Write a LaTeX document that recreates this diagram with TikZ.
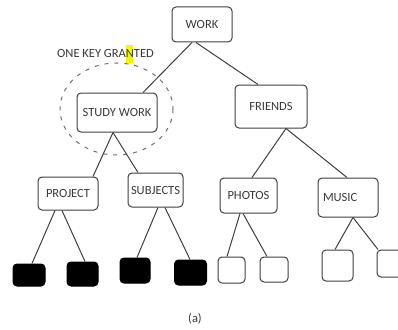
\documentclass[tikz,border=0pt]{standalone}
\usepackage{fontspec}
\setmainfont{Carlito}
\usetikzlibrary{calc}
\definecolor{linec}{HTML}{404040}
\definecolor{txtc}{HTML}{3A3A3A}
\definecolor{dashc}{HTML}{707070}
\definecolor{hl}{HTML}{F5F500}
\begin{document}
\begin{tikzpicture}[x=1pt,y=-1pt,
  box/.style={draw=linec, line width=1pt, rounded corners=4pt, inner sep=0pt,
    font=\fontsize{12.5}{14}\selectfont, text=txtc},
  leaf/.style={draw=linec, line width=1pt, rounded corners=4pt, inner sep=0pt},
  dark/.style={leaf, fill=black, draw=black},
  edge/.style={draw=linec, line width=1pt},
  lbl/.style={font=\fontsize{12.5}{14}\selectfont, text=txtc, inner sep=0pt}]
\useasboundingbox[fill=white] (0,0) rectangle (398,329);

% highlight and key label
\fill[hl] (126,45) rectangle (133,63);
\node[lbl, anchor=west] (key) at (57,53) {ONE KEY GRANTED};

% dashed circle
\draw[dashc, line width=1pt, dash pattern=on 4pt off 6pt] (116.5,109) ellipse [x radius=56.5, y radius=46];

% nodes
\node[box, minimum width=60pt, minimum height=35pt] (wk) at (202,24.5) {WORK};
\node[box, minimum width=80pt, minimum height=39pt] (sw) at (117,112.5) {STUDY WORK};
\node[box, minimum width=72pt, minimum height=43pt] (fr) at (271,106.5) {FRIENDS};
\node[box, minimum width=60pt, minimum height=33pt] (pj) at (68,193.5) {PROJECT};
\node[box, minimum width=55pt, minimum height=34pt] (sb) at (155.5,190) {SUBJECTS};
\node[box, minimum width=57pt, minimum height=35pt] (ph) at (248.5,195.5) {PHOTOS};
\node[box, minimum width=60pt, minimum height=39pt, text width=50pt, inner xsep=5pt, align=left] (mu) at (348,197.5) {MUSIC};

\node[dark, minimum width=32pt, minimum height=22pt] (b1) at (29,275) {};
\node[dark, minimum width=31pt, minimum height=24pt] (b2) at (82.5,274) {};
\node[dark, minimum width=30pt, minimum height=25pt] (b3) at (135,270.5) {};
\node[dark, minimum width=32pt, minimum height=25pt] (b4) at (190.5,272.5) {};

\node[leaf, minimum width=27pt, minimum height=26pt] (w1) at (231.5,270) {};
\node[leaf, minimum width=28pt, minimum height=25pt] (w2) at (274,269.5) {};
\node[leaf, minimum width=31pt, minimum height=31pt] (w3) at (337.5,265.5) {};
\node[leaf, minimum width=40pt, minimum height=27pt] (w4) at (397,263.5) {};

\node[lbl] (cap) at (195,319) {(a)};

% connectors
\draw[edge] ($(wk.south)+(-10,0)$) -- ($(sw.north)+(26,0)$);
\draw[edge] ($(wk.south)+(-6,0)$) -- ($(fr.north)+(-13,0)$);
\draw[edge] ($(sw.south)+(-4,0)$) -- ($(pj.north)+(25,0)$);
\draw[edge] ($(sw.south)+(-4,0)$) -- ($(sb.north)+(-17.5,0)$);
\draw[edge] ($(fr.south)+(15,0)$) -- ($(ph.north)+(3.5,0)$);
\draw[edge] ($(fr.south)+(15,0)$) -- ($(mu.north)+(-1,0)$);
\draw[edge] ($(pj.south)+(-13,0)$) -- ($(b1.north)+(3,0)$);
\draw[edge] ($(pj.south)+(-6,0)$) -- ($(b2.north)+(2.5,0)$);
\draw[edge] ($(sb.south)+(2.5,0)$) -- ($(b3.north)+(2,0)$);
\draw[edge] ($(sb.south)+(9.5,0)$) -- ($(b4.north)+(-0.5,0)$);
\draw[edge] ($(ph.south)+(-8.5,0)$) -- ($(w1.north)+(-4.5,0)$);
\draw[edge] ($(ph.south)+(-5.5,0)$) -- ($(w2.north)+(-7,0)$);
\draw[edge] ($(mu.south)+(5,0)$) -- ($(w3.north)+(-2.5,0)$);
\draw[edge] ($(mu.south)+(5,0)$) -- ($(w4.north)+(-19,0)$);
\end{tikzpicture}
\end{document}
